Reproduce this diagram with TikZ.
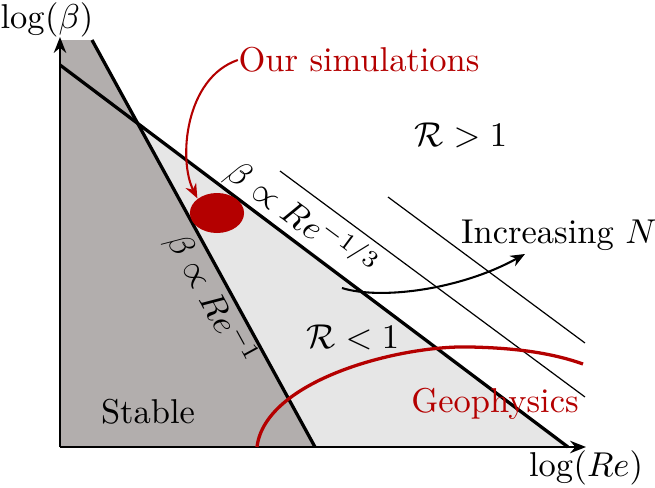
\documentclass[tikz,border=0pt]{standalone}
\usepackage{amsmath}
\usetikzlibrary{arrows.meta,shapes.geometric}
\definecolor{simred}{RGB}{180,0,0}
\definecolor{stablegray}{RGB}{178,174,173}
\definecolor{unstablegray}{RGB}{230,230,230}
\begin{document}
\begin{tikzpicture}[x=0.29pt,y=-0.29pt,
  axisline/.style={line width=0.65pt,-{Stealth[length=4.6pt,width=3.6pt]}},
  boundary/.style={line width=0.95pt},
  contour/.style={line width=0.35pt},
  label/.style={inner sep=0pt},
  redlabel/.style={inner sep=0pt,text=simred},
  pointer/.style={line width=0.6pt,-{Stealth[length=4.2pt,width=3.4pt]}},
  redpointer/.style={line width=0.6pt,simred,-{Stealth[length=4.2pt,width=3.4pt]}},
  geocurve/.style={line width=0.95pt,simred},
  simblob/.style={ellipse,fill=simred,minimum width=15.7pt,minimum height=11.6pt,inner sep=0pt}]
\useasboundingbox (0,0) rectangle (655,488);
% key points
\coordinate (O) at (60,447);
\coordinate (ytip) at (60,37);
\coordinate (xtip) at (586,447);
\coordinate (sA) at (92,40);
\coordinate (sB) at (315,447);
\coordinate (tA) at (60,65);
\coordinate (tB) at (568,447);
\coordinate (X) at (intersection of sA--sB and tA--tB);
% regions
\fill[stablegray] (60,40) -- (sA) -- (sB) -- (O) -- cycle;
\fill[unstablegray] (X) -- (tB) -- (sB) -- cycle;
% boundaries
\draw[boundary] (sA) -- (sB);
\draw[boundary] (tA) -- (tB);
% contours of increasing N
\coordinate (c1a) at (280,171);
\coordinate (c1b) at (585,397);
\coordinate (c2a) at (388,197);
\coordinate (c2b) at (585,343);
\draw[contour] (c1a) -- (c1b);
\draw[contour] (c2a) -- (c2b);
% axes
\draw[axisline] (O) -- (ytip);
\draw[axisline] (O) -- (xtip);
% labels
\node[label] (ylab) at (47,20) {$\log(\beta)$};
\node[label] (xlab) at (586,468) {$\log(Re)$};
\node[label] (stable) at (148,412) {Stable};
\node[label] (Rgt) at (461,135) {$\mathcal{R} > 1$};
\node[label] (Rlt) at (353,337) {$\mathcal{R} < 1$};
\node[label] (incN) at (559,235) {Increasing $N$};
\node[redlabel] (geo) at (495,404) {Geophysics};
\node[redlabel] (simtext) at (359,60) {Our simulations};
\node[label,rotate=-36.5] (law13) at (302,219) {$\beta\propto Re^{-1/3}$};
\node[label,rotate=-61.3] (law1) at (211,300) {$\beta\propto Re^{-1}$};
% simulations blob and arrow
\node[simblob] (sim) at (217,213) {};
\draw[redpointer] (simtext.west) .. controls (185,78) and (178,160) .. (sim.north west);
% increasing N arrow
\coordinate (nstart) at (342,288);
\coordinate (nend) at (525,254);
\draw[pointer] (nstart) .. controls (380,300) and (460,290) .. (nend);
% geophysics curve
\coordinate (gstart) at (257,447);
\coordinate (gend) at (583,364);
\draw[geocurve] (gstart) .. controls (265,380) and (400,345) .. (470,347) .. controls (520,348) and (555,354) .. (gend);
\end{tikzpicture}
\end{document}
